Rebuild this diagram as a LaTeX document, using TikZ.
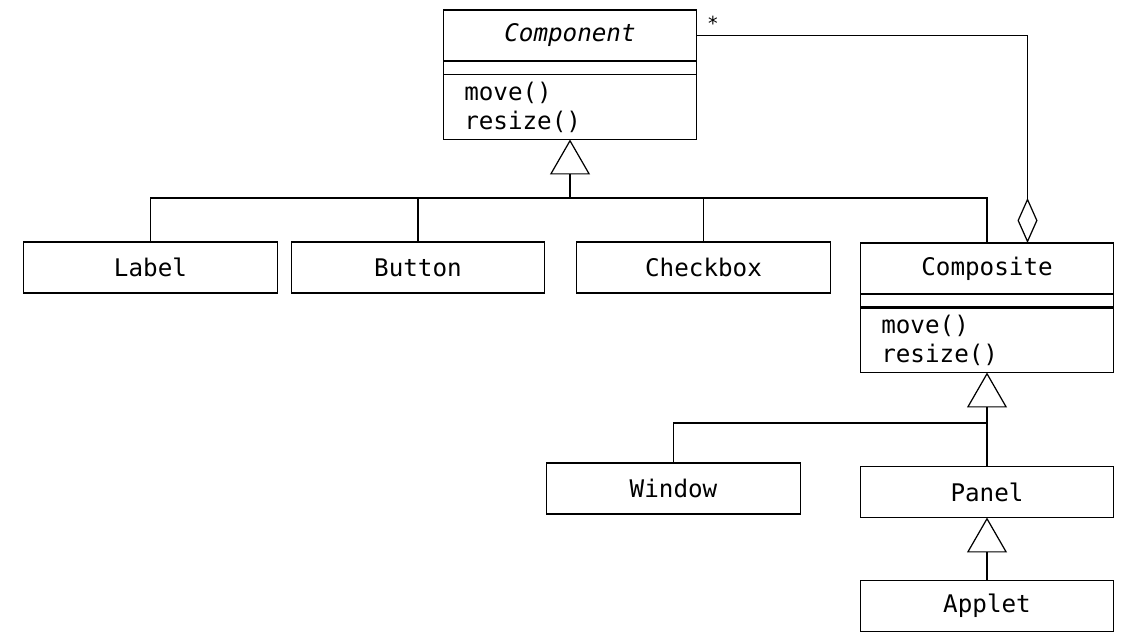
\documentclass[tikz,border=0pt]{standalone}
\usepackage{fontspec}
\setmonofont{DejaVu Sans Mono}[ItalicFont={DejaVu Sans Mono Oblique}]
\usetikzlibrary{arrows.meta,positioning}

\begin{document}
\begin{tikzpicture}[node distance=0.28cm]
\tikzstyle{cls}=[rectangle, draw=black, line width=0.7pt, outer sep=0pt, minimum width=5.07cm, minimum height=1.02cm, font=\ttfamily\fontsize{13.8}{16.5}\selectfont]
\tikzstyle{attr}=[cls, minimum height=0.27cm, inner sep=0pt]
\tikzstyle{meth}=[cls, minimum height=1.3cm, text width=4.23cm, inner xsep=0.42cm, align=left]
\tikzstyle{conn}=[line width=0.7pt]
\tikzstyle{inherit}=[conn, -{Triangle[open, width=0.8cm, length=0.7cm]}]
\tikzstyle{aggr}=[conn, -{Diamond[open, width=0.4cm, length=0.9cm]}]
\useasboundingbox (0,0) rectangle (22.54,-12.8);
% Component class
\node (cmpName) [cls] at (11.4,-0.71) {\textit{Component}};
\node (cmpAttr) [attr, below=0pt of cmpName] {};
\node (cmpMeth) [meth, below=0pt of cmpAttr] {move()\\resize()};
% first row of subclasses
\node (label) [cls] at (3.01,-5.35) {Label};
\node (button) [cls, right=of label] {Button};
\node (checkbox) [cls, right=0.64cm of button] {Checkbox};
\node (csName) [cls, right=0.6cm of checkbox, yshift=-0.02cm] {Composite};
\node (csAttr) [attr, below=0pt of csName] {};
\node (csMeth) [meth, below=0pt of csAttr] {move()\\resize()};
\draw[line width=1.2pt] (csMeth.north west) -- (csMeth.north east);
% second row
\node (window) [cls] at (13.47,-9.77) {Window};
\node (panel) [cls, below=1.88cm of csMeth] {Panel};
\node (applet) [cls, below=1.26cm of panel] {Applet};
% generalisations
\coordinate (hubA) at (cmpMeth.south |- 0,-3.96);
\draw[conn] (label.north) |- (hubA);
\draw[conn] (button.north) |- (hubA);
\draw[conn] (checkbox.north) |- (hubA);
\draw[conn] (csName.north) |- (hubA);
\draw[inherit] (hubA) -- (cmpMeth.south);
\coordinate (hubB) at (csMeth.south |- 0,-8.46);
\draw[conn] (window.north) |- (hubB);
\draw[conn] (panel.north) -- (hubB);
\draw[inherit] (hubB) -- (csMeth.south);
\draw[inherit] (applet.north) -- (panel.south);
% aggregation
\coordinate (aggEnd) at ([xshift=0.81cm]csName.north);
\draw[aggr] (cmpName.east) -| (aggEnd);
\node (mult) [font=\ttfamily\fontsize{11}{13}\selectfont] at (14.26,-0.47) {*};
\end{tikzpicture}
\end{document}
